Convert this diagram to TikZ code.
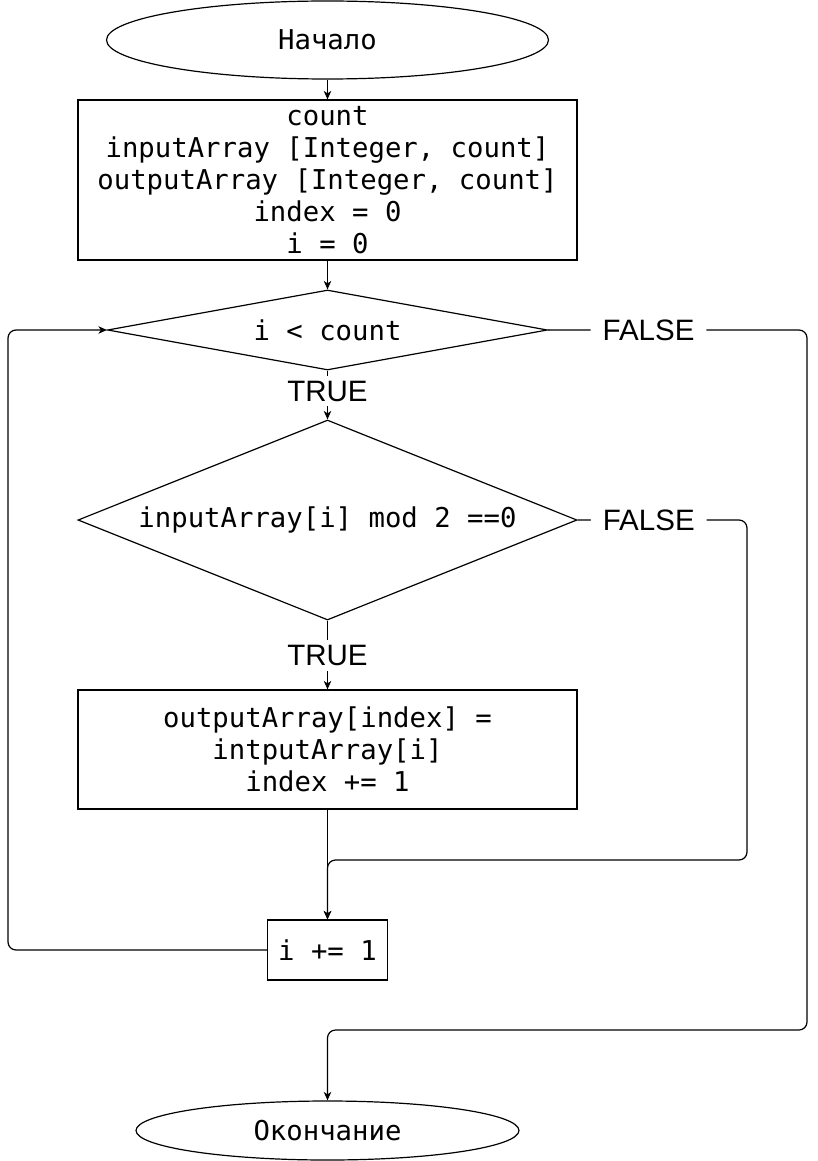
\documentclass[tikz,border=0pt]{standalone}
\usepackage{fontspec}
\newfontfamily\codefont{DejaVu Sans Mono}
\newfontfamily\labelfont{Liberation Sans}
\usetikzlibrary{shapes.geometric,arrows.meta}

\begin{document}
\begin{tikzpicture}[x=1pt,y=-1pt,
  every node/.style={line width=1.2pt},
  codetext/.style={font=\codefont\fontsize{27.3}{32}\selectfont, align=center},
  terminal/.style={draw, ellipse, inner sep=0pt, codetext},
  procbox/.style={draw, rectangle, inner sep=0pt, codetext},
  decision/.style={draw, diamond, inner sep=0pt, codetext},
  flow/.style={line width=1.2pt, -{Stealth[length=8.5pt,width=7.5pt,inset=2.5pt]}},
  elbowflow/.style={flow, rounded corners=8pt},
  branch/.style={fill=white, font=\labelfont\fontsize{29.5}{30}\selectfont,
                 inner xsep=12pt, inner ysep=5pt}
]
\useasboundingbox (0,0) rectangle (817,1161);

% blocks, all centred on one vertical axis
\node[terminal, minimum width=442pt, minimum height=78pt] (start) at (327.5,40) {Начало};
\node[procbox, minimum width=499pt, minimum height=160pt] (init) at (327.5,180)
  {count\\inputArray [Integer, count]\\outputArray [Integer, count]\\index = 0\\i = 0};
\node[decision, aspect=5.5, minimum width=440pt, minimum height=80pt] (loopcond) at (327.5,330) {i < count};
\node[decision, aspect=2.5, minimum width=499pt, minimum height=200pt] (evencond) at (327.5,520)
  {inputArray[i] mod 2 ==0};
\node[procbox, minimum width=499pt, minimum height=119pt] (copy) at (327.5,749.5)
  {outputArray[index] =\\intputArray[i]\\index += 1};
\node[procbox, minimum width=120pt, minimum height=60pt] (inc) at (327.5,950) {i += 1};
\node[terminal, minimum width=383pt, minimum height=59pt] (finish) at (327.5,1130.5) {Окончание};

% routing points
\coordinate (exitx) at (807,0);
\coordinate (skipx) at (747,0);
\coordinate (loopx) at (8,0);
\coordinate (merge) at (327.5,860);
\coordinate (exitjoin) at (327.5,1030);

% straight flow
\draw[flow] (start.south) -- (init.north);
\draw[flow] (init.south) -- (loopcond.north);
\draw[flow] (loopcond.south) -- node[branch, pos=0.42] {TRUE} (evencond.north);
\draw[flow] (evencond.south) -- node[branch, pos=0.51] {TRUE} (copy.north);
\draw[flow] (copy.south) -- (inc.north);

% skip branch when the element is odd
\draw[elbowflow] (evencond.east) -- node[branch, pos=0.42] {FALSE} (evencond.east -| skipx)
  -- (skipx |- merge) -- (merge) -- (inc.north);

% loop back to the condition
\draw[elbowflow] (inc.west) -- (loopx |- inc.west) -- (loopx |- loopcond.west) -- (loopcond.west);

% loop exit
\draw[elbowflow] (loopcond.east) -- node[branch, pos=0.388] {FALSE} (loopcond.east -| exitx)
  -- (exitx |- exitjoin) -- (exitjoin) -- (finish.north);
\end{tikzpicture}
\end{document}
